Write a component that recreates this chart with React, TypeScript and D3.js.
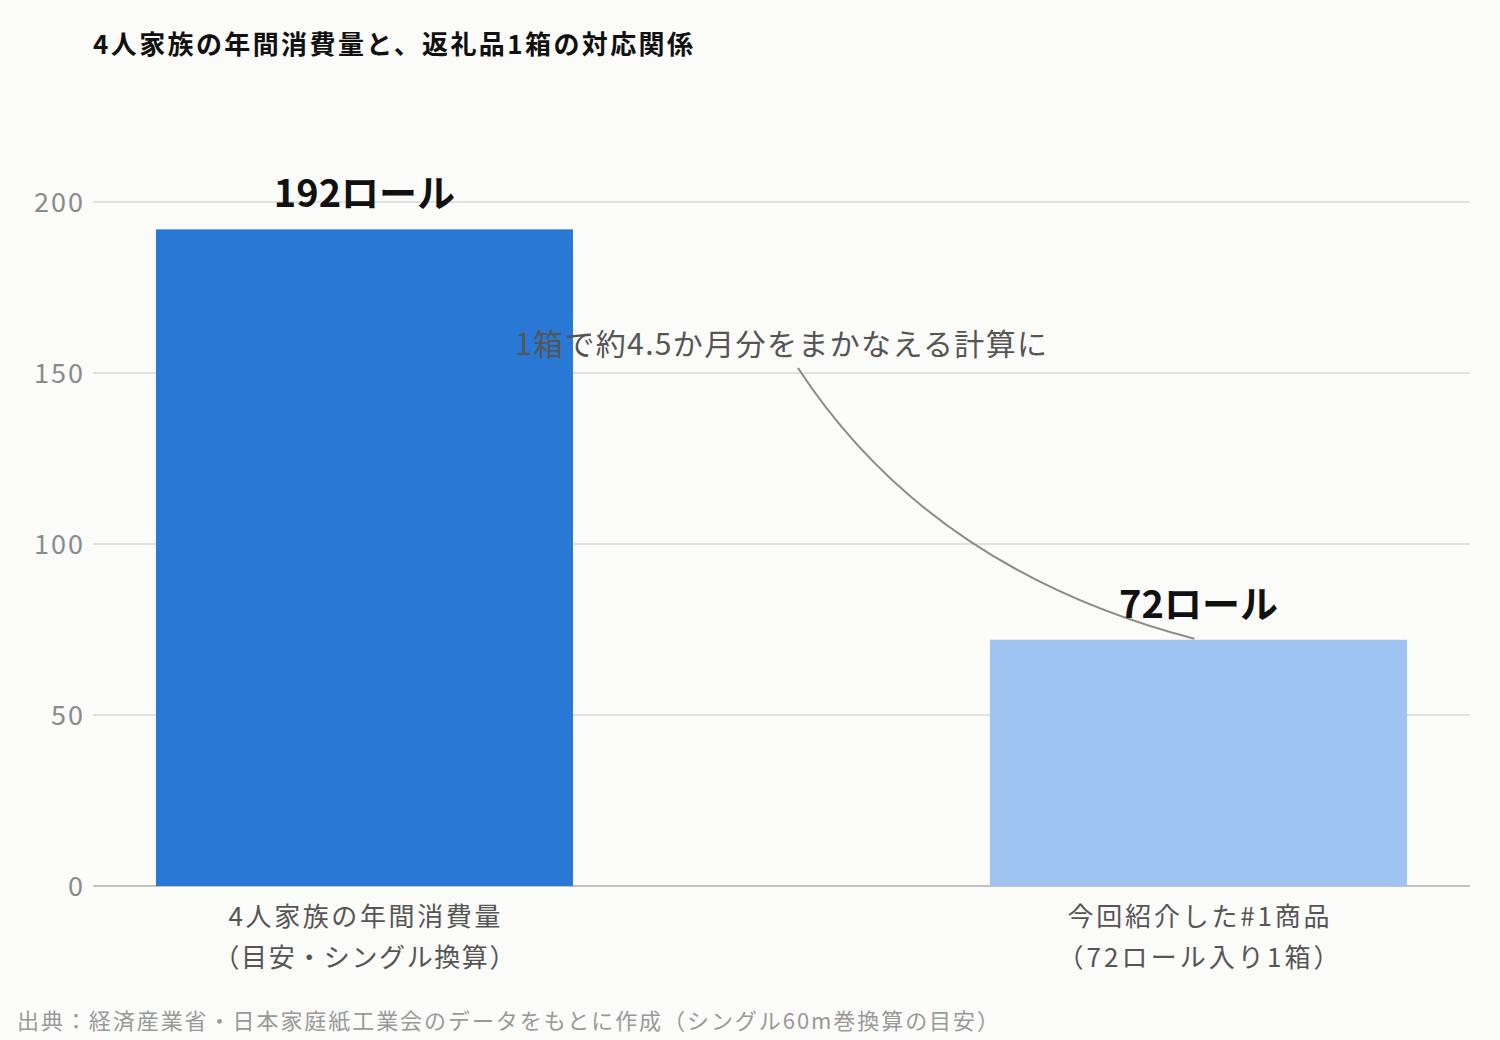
import React, {useEffect, useRef} from 'react';
import * as d3 from 'd3';

const categoryLines = [
  ['4人家族の年間消費量', '（目安・シングル換算）'],
  ['今回紹介した#1商品', '（72ロール入り1箱）'],
];
const categories = ['annual', 'gift'];
const rolls = [192, 72];
const valueLabels = ['192ロール', '72ロール'];
const barColors = ['#2978d6', '#a0c4f2'];
const yTicks = [0, 50, 100, 150, 200];

const title = '4人家族の年間消費量と、返礼品1箱の対応関係';
const note = '1箱で約4.5か月分をまかなえる計算に';
const source =
  '出典：経済産業省・日本家庭紙工業会のデータをもとに作成（シングル60m巻換算の目安）';

const categoryWidths = [
  [272, 302],
  [262, 282],
];

const FONT = '"Noto Sans CJK JP", "Noto Sans", sans-serif';

const App = () => {
  const ref = useRef<SVGSVGElement>(null);
  const W = 1500,
    H = 1040;
  const margin = {left: 93, right: 30};

  useEffect(() => {
    const svg = d3.select(ref.current);
    svg.selectAll('*').remove();

    svg.append('rect').attr('width', W).attr('height', H).attr('fill', '#fbfbf9');

    const x = d3
      .scaleBand()
      .domain(categories)
      .range([margin.left, W - margin.right])
      .paddingInner(0.5)
      .paddingOuter(0.0755);
    const y = d3.scaleLinear().domain([0, 200]).range([886, 202]);

    // grid
    svg
      .append('g')
      .selectAll('line')
      .data(yTicks)
      .enter()
      .append('line')
      .attr('x1', margin.left)
      .attr('x2', W - margin.right)
      .attr('y1', d => y(d))
      .attr('y2', d => y(d))
      .attr('stroke', d => (d === 0 ? '#c2c2ba' : '#e2e2dc'))
      .attr('stroke-width', 2);

    // y tick labels
    svg
      .append('g')
      .selectAll('text')
      .data(yTicks)
      .enter()
      .append('text')
      .attr('x', 85)
      .attr('y', d => y(d) + 10)
      .attr('text-anchor', 'end')
      .attr('font-family', FONT)
      .attr('font-size', 27)
      .attr('letter-spacing', 2)
      .attr('fill', '#8a8a8a')
      .text(d => d);

    // bars
    svg
      .append('g')
      .selectAll('rect')
      .data(rolls)
      .enter()
      .append('rect')
      .attr('x', (_, i) => x(categories[i]) as number)
      .attr('y', d => y(d))
      .attr('width', x.bandwidth())
      .attr('height', d => y(0) - y(d))
      .attr('fill', (_, i) => barColors[i]);

    // connector curve
    const p0: [number, number] = [798, 368];
    const p2: [number, number] = [
      (x(categories[1]) as number) + x.bandwidth() * 0.49,
      y(rolls[1]) - 1,
    ];
    const path = d3.path();
    path.moveTo(p0[0], p0[1]);
    path.quadraticCurveTo(930, 570, p2[0], p2[1]);
    svg
      .append('path')
      .attr('d', path.toString())
      .attr('fill', 'none')
      .attr('stroke', '#8a8a86')
      .attr('stroke-width', 2);

    // value labels
    svg
      .append('g')
      .selectAll('text')
      .data(rolls)
      .enter()
      .append('text')
      .attr('x', (_, i) => (x(categories[i]) as number) + x.bandwidth() / 2)
      .attr('y', d => y(d) - 22)
      .attr('text-anchor', 'middle')
      .attr('font-family', FONT)
      .attr('font-weight', 'bold')
      .attr('font-size', 38)
      .attr('fill', '#111')
      .text((_, i) => valueLabels[i]);

    // annotation
    svg
      .append('text')
      .attr('x', 515)
      .attr('y', 355)
      .attr('font-family', FONT)
      .attr('font-size', 30)
      .attr('textLength', 532)
      .attr('lengthAdjust', 'spacing')
      .attr('fill', '#555')
      .text(note);

    // category labels
    categoryLines.forEach((lines, i) => {
      const cx = (x(categories[i]) as number) + x.bandwidth() / 2;
      lines.forEach((t, j) => {
        svg
          .append('text')
          .attr('x', cx)
          .attr('y', 926 + j * 41)
          .attr('text-anchor', 'middle')
          .attr('font-family', FONT)
          .attr('font-size', 26)
          .attr('textLength', categoryWidths[i][j])
          .attr('lengthAdjust', 'spacing')
          .attr('fill', '#555')
          .text(t);
      });
    });

    // title
    svg
      .append('text')
      .attr('x', 93)
      .attr('y', 54)
      .attr('font-family', FONT)
      .attr('font-weight', 'bold')
      .attr('font-size', 26)
      .attr('textLength', 600)
      .attr('lengthAdjust', 'spacing')
      .attr('fill', '#111')
      .text(title);

    // source
    svg
      .append('text')
      .attr('x', 17)
      .attr('y', 1029)
      .attr('font-family', FONT)
      .attr('font-size', 22)
      .attr('textLength', 982)
      .attr('lengthAdjust', 'spacing')
      .attr('fill', '#999')
      .text(source);
  }, []);

  return (
    <svg
      ref={ref}
      width={W}
      height={H}
      style={{position: 'absolute', left: 0, top: 0}}
    />
  );
};

export default App;
